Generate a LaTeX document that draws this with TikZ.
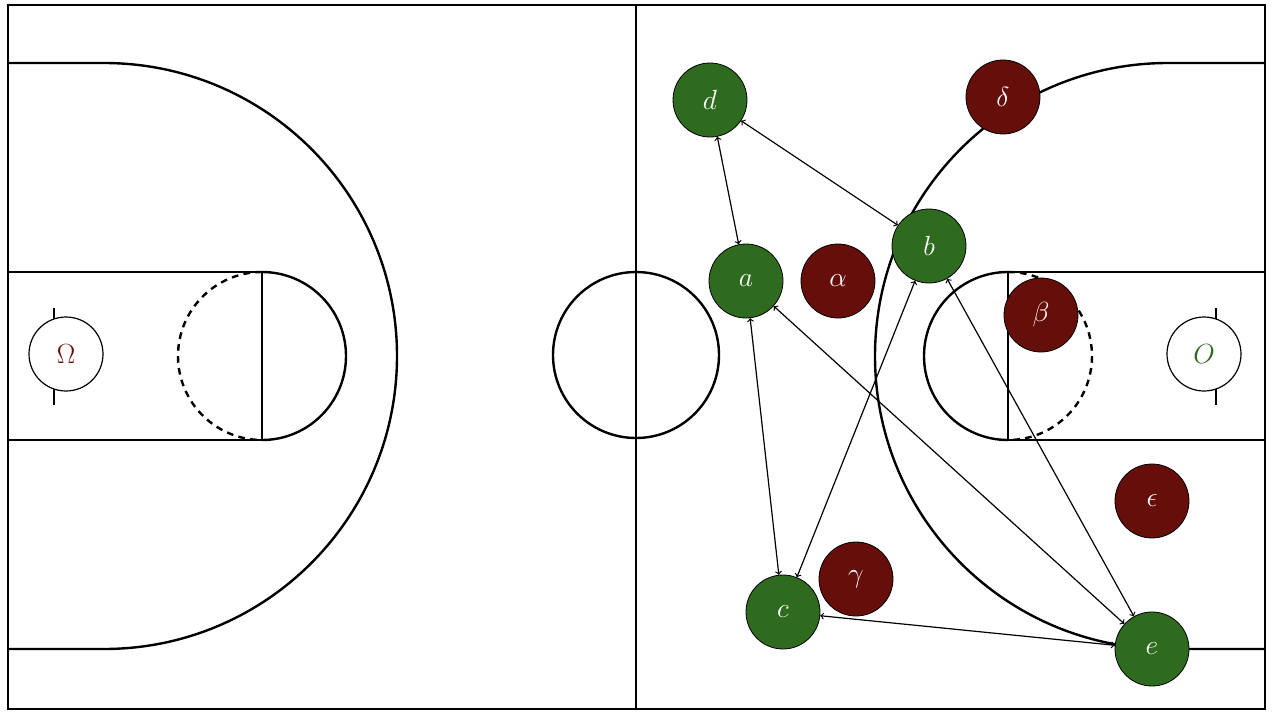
\documentclass[tikz,border=0pt]{standalone}
\begin{document}
\begin{tikzpicture}[x=0.75pt,y=-0.75pt,
  court/.style={line width=1.8pt,black},
  green/.style={circle,fill=ggreen,draw=black,line width=0.6pt,minimum size=55.5pt,inner sep=0pt,text=white,font=\fontsize{22}{26}\selectfont},
  red/.style={circle,fill=rred,draw=black,line width=0.6pt,minimum size=55.5pt,inner sep=0pt,text=white,font=\fontsize{22}{26}\selectfont},
  hoop/.style={circle,fill=white,draw=black,line width=0.9pt,minimum size=55.5pt,inner sep=0pt,font=\fontsize{22}{26}\selectfont},
  link/.style={<->,>=to,line width=0.9pt}]
\definecolor{ggreen}{HTML}{2E6B1F}
\definecolor{rred}{HTML}{660E0A}
\useasboundingbox (0,0) rectangle (1272,714);
\fill[white] (0,0) rectangle (1272,714);
\draw[court] (8,5) rectangle (1265,709);
\draw[court] (636,5) -- (636,709);
\draw[court] (636,355) circle[radius=83];
% left three-point
\draw[court] (8,63) -- (104,63) arc[start angle=-90,end angle=90,radius=293] -- (8,649);
\draw[court] (8,272) -- (262,272) -- (262,440) -- (8,440);
\draw[court] (262,272) arc[start angle=-90,end angle=90,radius=84];
\draw[court,dashed,dash pattern=on 5pt off 4pt] (262,272) arc[start angle=-90,end angle=-270,radius=84];
\draw[court] (54,308) -- (54,405);
% right
\draw[court] (1265,63) -- (1168,63) arc[start angle=-90,end angle=-270,radius=293] -- (1265,649);
\draw[court] (1265,272) -- (1008,272) -- (1008,440) -- (1265,440);
\draw[court] (1008,272) arc[start angle=-90,end angle=-270,radius=84];
\draw[court,dashed,dash pattern=on 5pt off 4pt] (1008,272) arc[start angle=-90,end angle=90,radius=84];
\draw[court] (1216,308) -- (1216,405);
\node[hoop,text=rred] (om) at (66,354) {$\Omega$};
\node[hoop,text=ggreen] (o) at (1204,354) {$O$};
\node[green] (d) at (710,100) {$d$};
\node[green] (a) at (746,281) {$a$};
\node[green] (b) at (929,246) {$b$};
\node[green] (c) at (783,612) {$c$};
\node[green] (e) at (1152,649) {$e$};
\node[red] (al) at (838,281) {$\alpha$};
\node[red] (be) at (1041,315) {$\beta$};
\node[red] (ga) at (856,579) {$\gamma$};
\node[red] (de) at (1003,97) {$\delta$};
\node[red] (ep) at (1152,501) {$\epsilon$};
\draw[link] (d) -- (a);
\draw[link] (d) -- (b);
\draw[link] (a) -- (c);
\draw[link] (a) -- (e);
\draw[link] (b) -- (c);
\draw[link] (b) -- (e);
\draw[link] (c) -- (e);
\end{tikzpicture}
\end{document}
